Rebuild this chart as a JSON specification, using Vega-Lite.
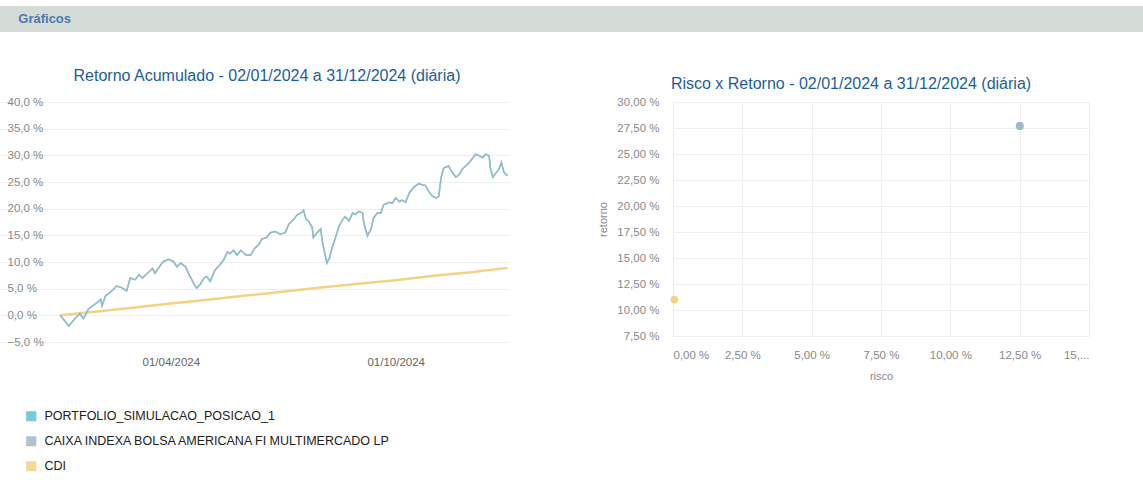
{
  "$schema": "https://vega.github.io/schema/vega-lite/v6.json",
  "background": "white",
  "padding": {"left": 0, "top": 6, "right": 0, "bottom": 0},
  "config": {
    "font": "Liberation Sans",
    "view": {"stroke": null},
    "axis": {"domain": false, "ticks": false, "gridColor": "#efefef", "gridWidth": 1, "labelColor": "#8a8a8a", "labelFontSize": 11.5, "titleColor": "#8a8a8a", "titleFontWeight": "normal", "titleFontSize": 11}
  },
  "datasets": {
    "cabecalho": [{"secao": "Gráficos", "pos": 1.6}],
    "fundo": [
      {"data": "2024-01-02", "retorno": 0}, {"data": "2024-01-09", "retorno": -2.0}, {"data": "2024-01-14", "retorno": -0.6}, {"data": "2024-01-18", "retorno": 0.3}, {"data": "2024-01-21", "retorno": -0.6}, {"data": "2024-01-25", "retorno": 1.2},
      {"data": "2024-02-01", "retorno": 2.4}, {"data": "2024-02-04", "retorno": 3.0}, {"data": "2024-02-05", "retorno": 1.8}, {"data": "2024-02-08", "retorno": 3.7}, {"data": "2024-02-10", "retorno": 4.0}, {"data": "2024-02-13", "retorno": 4.6}, {"data": "2024-02-17", "retorno": 5.5}, {"data": "2024-02-21", "retorno": 5.2}, {"data": "2024-02-25", "retorno": 4.6}, {"data": "2024-02-28", "retorno": 7.0},
      {"data": "2024-03-03", "retorno": 6.7}, {"data": "2024-03-06", "retorno": 7.6}, {"data": "2024-03-09", "retorno": 7.0}, {"data": "2024-03-13", "retorno": 7.9}, {"data": "2024-03-17", "retorno": 8.8}, {"data": "2024-03-19", "retorno": 7.9}, {"data": "2024-03-24", "retorno": 9.5}, {"data": "2024-03-26", "retorno": 10.1}, {"data": "2024-03-30", "retorno": 10.5},
      {"data": "2024-04-03", "retorno": 10.1}, {"data": "2024-04-06", "retorno": 9.1}, {"data": "2024-04-09", "retorno": 9.8}, {"data": "2024-04-13", "retorno": 9.1}, {"data": "2024-04-16", "retorno": 7.6}, {"data": "2024-04-20", "retorno": 5.8}, {"data": "2024-04-22", "retorno": 5.1}, {"data": "2024-04-25", "retorno": 5.8}, {"data": "2024-04-28", "retorno": 7.0}, {"data": "2024-04-30", "retorno": 7.3},
      {"data": "2024-05-03", "retorno": 6.4}, {"data": "2024-05-07", "retorno": 8.5}, {"data": "2024-05-11", "retorno": 9.5}, {"data": "2024-05-14", "retorno": 10.4}, {"data": "2024-05-17", "retorno": 11.9}, {"data": "2024-05-19", "retorno": 11.6}, {"data": "2024-05-22", "retorno": 12.2}, {"data": "2024-05-25", "retorno": 11.3}, {"data": "2024-05-28", "retorno": 12.2},
      {"data": "2024-06-01", "retorno": 11.3}, {"data": "2024-06-05", "retorno": 11.3}, {"data": "2024-06-08", "retorno": 12.5}, {"data": "2024-06-12", "retorno": 13.4}, {"data": "2024-06-14", "retorno": 14.3}, {"data": "2024-06-18", "retorno": 14.6}, {"data": "2024-06-21", "retorno": 15.5}, {"data": "2024-06-25", "retorno": 15.7}, {"data": "2024-06-29", "retorno": 15.2},
      {"data": "2024-07-03", "retorno": 15.5}, {"data": "2024-07-06", "retorno": 17.1}, {"data": "2024-07-10", "retorno": 18.0}, {"data": "2024-07-13", "retorno": 18.9}, {"data": "2024-07-16", "retorno": 19.2}, {"data": "2024-07-18", "retorno": 19.7}, {"data": "2024-07-20", "retorno": 18.0}, {"data": "2024-07-22", "retorno": 17.7}, {"data": "2024-07-25", "retorno": 16.5}, {"data": "2024-07-26", "retorno": 14.6}, {"data": "2024-07-29", "retorno": 15.5},
      {"data": "2024-08-01", "retorno": 16.2}, {"data": "2024-08-02", "retorno": 14.3}, {"data": "2024-08-04", "retorno": 11.9}, {"data": "2024-08-06", "retorno": 9.8}, {"data": "2024-08-08", "retorno": 10.7}, {"data": "2024-08-10", "retorno": 12.5}, {"data": "2024-08-13", "retorno": 14.6}, {"data": "2024-08-16", "retorno": 16.8}, {"data": "2024-08-19", "retorno": 18.0}, {"data": "2024-08-21", "retorno": 18.5}, {"data": "2024-08-24", "retorno": 17.7}, {"data": "2024-08-27", "retorno": 19.2}, {"data": "2024-08-29", "retorno": 18.9},
      {"data": "2024-09-01", "retorno": 19.5}, {"data": "2024-09-04", "retorno": 19.2}, {"data": "2024-09-05", "retorno": 17.4}, {"data": "2024-09-08", "retorno": 14.9}, {"data": "2024-09-11", "retorno": 16.2}, {"data": "2024-09-13", "retorno": 18.3}, {"data": "2024-09-16", "retorno": 19.2}, {"data": "2024-09-19", "retorno": 19.2}, {"data": "2024-09-21", "retorno": 20.7}, {"data": "2024-09-26", "retorno": 21.2}, {"data": "2024-09-28", "retorno": 21.0},
      {"data": "2024-10-01", "retorno": 22.0}, {"data": "2024-10-04", "retorno": 21.3}, {"data": "2024-10-06", "retorno": 21.6}, {"data": "2024-10-09", "retorno": 21.2}, {"data": "2024-10-12", "retorno": 22.9}, {"data": "2024-10-16", "retorno": 24.1}, {"data": "2024-10-20", "retorno": 24.7}, {"data": "2024-10-23", "retorno": 24.4}, {"data": "2024-10-25", "retorno": 24.4}, {"data": "2024-10-28", "retorno": 23.2}, {"data": "2024-10-31", "retorno": 22.3},
      {"data": "2024-11-03", "retorno": 22.0}, {"data": "2024-11-05", "retorno": 22.3}, {"data": "2024-11-07", "retorno": 25.9}, {"data": "2024-11-09", "retorno": 27.6}, {"data": "2024-11-13", "retorno": 28.0}, {"data": "2024-11-16", "retorno": 26.8}, {"data": "2024-11-19", "retorno": 25.9}, {"data": "2024-11-22", "retorno": 26.5}, {"data": "2024-11-24", "retorno": 27.4}, {"data": "2024-11-27", "retorno": 28.0}, {"data": "2024-11-30", "retorno": 28.7},
      {"data": "2024-12-02", "retorno": 29.3}, {"data": "2024-12-05", "retorno": 30.2}, {"data": "2024-12-08", "retorno": 29.9}, {"data": "2024-12-11", "retorno": 29.6}, {"data": "2024-12-13", "retorno": 30.2}, {"data": "2024-12-16", "retorno": 29.9}, {"data": "2024-12-17", "retorno": 27.7}, {"data": "2024-12-19", "retorno": 25.9}, {"data": "2024-12-22", "retorno": 26.8}, {"data": "2024-12-24", "retorno": 27.4}, {"data": "2024-12-26", "retorno": 28.7}, {"data": "2024-12-28", "retorno": 26.8}, {"data": "2024-12-31", "retorno": 26.2}
    ],
    "cdi": [
      {"data": "2024-01-02", "retorno": 0}, {"data": "2024-02-01", "retorno": 0.7}, {"data": "2024-03-01", "retorno": 1.4}, {"data": "2024-04-01", "retorno": 2.2}, {"data": "2024-05-01", "retorno": 2.9}, {"data": "2024-06-01", "retorno": 3.7}, {"data": "2024-07-01", "retorno": 4.4}, {"data": "2024-08-01", "retorno": 5.2}, {"data": "2024-09-01", "retorno": 5.9}, {"data": "2024-10-01", "retorno": 6.6}, {"data": "2024-11-01", "retorno": 7.4}, {"data": "2024-12-01", "retorno": 8.1}, {"data": "2024-12-31", "retorno": 8.9}
    ],
    "riscoRetorno": [
      {"serie": "CDI", "risco": 0.05, "retorno": 11.0},
      {"serie": "PORTFOLIO_SIMULACAO_POSICAO_1", "risco": 12.5, "retorno": 27.7},
      {"serie": "CAIXA INDEXA BOLSA AMERICANA FI MULTIMERCADO LP", "risco": 12.5, "retorno": 27.7}
    ]
  },
  "vconcat": [
    {
      "data": {"name": "cabecalho"},
      "width": 1143,
      "height": 26,
      "view": {"fill": "#d5dcd8", "stroke": null},
      "mark": {"type": "text", "align": "left", "baseline": "middle", "fontSize": 13, "fontWeight": "bold", "color": "#4a79ad"},
      "encoding": {
        "x": {"field": "pos", "type": "quantitative", "scale": {"domain": [0, 100]}, "axis": null},
        "text": {"field": "secao"}
      }
    },
    {
      "hconcat": [
        {
          "width": 510,
          "height": 240,
          "title": {"text": "Retorno Acumulado - 02/01/2024 a 31/12/2024 (diária)", "fontSize": 16, "fontWeight": "normal", "color": "#1d5e99", "offset": 12, "anchor": "middle", "dx": 12},
          "encoding": {
            "x": {"field": "data", "type": "temporal", "scale": {"type": "utc", "domain": [{"year": 2023, "month": 11, "date": 14, "utc": true}, {"year": 2025, "month": 1, "date": 2, "utc": true}]}, "axis": {"title": null, "grid": false, "format": "%d/%m/%Y", "values": [{"year": 2024, "month": 4, "date": 1, "utc": true}, {"year": 2024, "month": 10, "date": 1, "utc": true}], "labelPadding": 14, "labelColor": "#666666"}},
            "y": {"field": "retorno", "type": "quantitative", "scale": {"domain": [-5, 40], "nice": false}, "axis": {"title": null, "values": [-5, 0, 5, 10, 15, 20, 25, 30, 35, 40], "labelExpr": "replace(format(datum.value, '.1f'), '.', ',') + ' %'", "labelAlign": "left", "labelPadding": -7}}
          },
          "layer": [
            {
              "data": {"name": "cdi"},
              "mark": {"type": "line", "strokeWidth": 2.5},
              "encoding": {"color": {"datum": "CDI", "type": "nominal", "scale": {"domain": ["PORTFOLIO_SIMULACAO_POSICAO_1", "CAIXA INDEXA BOLSA AMERICANA FI MULTIMERCADO LP", "CDI"], "range": ["#5ec2d0", "#a3b8c6", "#f4d283"]}, "legend": {"title": null, "orient": "none", "legendX": 25, "legendY": 404, "direction": "vertical", "symbolType": "square", "symbolSize": 75, "labelFontSize": 12.5, "labelColor": "#222222", "labelLimit": 0, "labelOffset": 7, "rowPadding": 9, "padding": 0}}}
            },
            {
              "data": {"name": "fundo"},
              "mark": {"type": "line", "strokeWidth": 1.5},
              "encoding": {"color": {"datum": "PORTFOLIO_SIMULACAO_POSICAO_1", "type": "nominal"}}
            },
            {
              "data": {"name": "fundo"},
              "mark": {"type": "line", "strokeWidth": 1.5, "opacity": 0.85},
              "encoding": {"color": {"datum": "CAIXA INDEXA BOLSA AMERICANA FI MULTIMERCADO LP", "type": "nominal"}}
            }
          ]
        },
        {
          "width": 416,
          "height": 234,
          "title": {"text": "Risco x Retorno - 02/01/2024 a 31/12/2024 (diária)", "fontSize": 16, "fontWeight": "normal", "color": "#1d5e99", "offset": 4, "anchor": "middle", "dx": -30},
          "data": {"name": "riscoRetorno"},
          "mark": {"type": "point", "filled": true, "size": 60, "opacity": 1},
          "encoding": {
            "x": {"field": "risco", "type": "quantitative", "scale": {"domain": [0, 15], "nice": false}, "axis": {"title": "risco", "values": [0, 2.5, 5, 7.5, 10, 12.5, 15], "labelExpr": "datum.value >= 15 ? '15,...' : replace(format(datum.value, '.2f'), '.', ',') + ' %'", "labelPadding": 13, "titlePadding": 10}},
            "y": {"field": "retorno", "type": "quantitative", "scale": {"domain": [7.5, 30], "nice": false, "zero": false}, "axis": {"title": "retorno", "values": [7.5, 10, 12.5, 15, 17.5, 20, 22.5, 25, 27.5, 30], "labelExpr": "replace(format(datum.value, '.2f'), '.', ',') + ' %'", "labelPadding": 14, "titlePadding": 8}},
            "color": {"field": "serie", "type": "nominal", "scale": {"domain": ["PORTFOLIO_SIMULACAO_POSICAO_1", "CAIXA INDEXA BOLSA AMERICANA FI MULTIMERCADO LP", "CDI"], "range": ["#5ec2d0", "#a3b8c6", "#f4d283"]}, "legend": {"title": null, "orient": "none", "legendX": 25, "legendY": 404, "direction": "vertical", "symbolType": "square", "symbolSize": 75, "labelFontSize": 12.5, "labelColor": "#222222", "labelLimit": 0, "labelOffset": 7, "rowPadding": 9, "padding": 0}}
          }
        }
      ],
      "spacing": 84
    }
  ],
  "spacing": 36,
  "resolve": {"scale": {"color": "shared"}}
}
